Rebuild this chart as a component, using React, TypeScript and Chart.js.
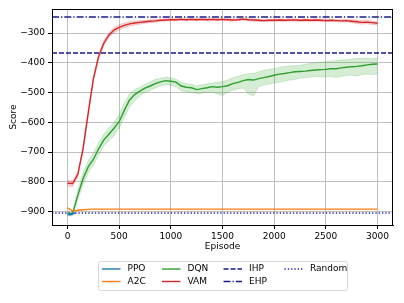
import React, { useEffect, useRef } from "react";
import { Chart, registerables } from "chart.js";

Chart.register(...registerables);

// ---------- data ----------
const EPISODES = [
  0, 50, 100, 150, 200, 250, 300, 350, 400, 450, 500, 550, 600, 650, 700, 750, 800, 850, 900, 950,
  1000, 1050, 1100, 1150, 1200, 1250, 1300, 1350, 1400, 1450, 1500, 1550, 1600, 1650, 1700, 1750,
  1800, 1850, 1900, 1950, 2000, 2050, 2100, 2150, 2200, 2250, 2300, 2350, 2400, 2450, 2500, 2550,
  2600, 2650, 2700, 2750, 2800, 2850, 2900, 2950, 3000,
];

const VAM_MEAN = [
  -805, -806, -775, -690, -570, -455, -380, -335, -307, -290, -281, -274, -269, -266, -264, -262,
  -260, -259, -257, -256, -255, -255, -254, -255, -254, -255, -254, -255, -254, -255, -254, -255,
  -256, -255, -253, -255, -256, -257, -258, -257, -257, -256, -257, -256, -256, -257, -256, -257,
  -256, -257, -258, -257, -258, -259, -258, -260, -262, -264, -263, -265, -267,
];
const VAM_UPPER = [
  -795, -797, -767, -682, -562, -447, -372, -327, -299, -281, -272, -266, -262, -259, -258, -257,
  -255, -254, -253, -252, -251, -251, -250, -251, -250, -251, -250, -251, -250, -251, -250, -251,
  -252, -251, -249, -251, -252, -253, -254, -253, -253, -252, -253, -252, -252, -253, -252, -253,
  -252, -253, -254, -253, -254, -255, -254, -255, -256, -258, -257, -259, -261,
];
const VAM_LOWER = [
  -815, -816, -783, -698, -578, -463, -388, -343, -315, -299, -290, -282, -276, -273, -270, -267,
  -265, -264, -261, -260, -259, -259, -258, -259, -258, -259, -258, -259, -258, -259, -258, -259,
  -260, -259, -257, -259, -260, -261, -262, -261, -261, -260, -261, -260, -260, -261, -260, -261,
  -260, -261, -262, -261, -262, -263, -262, -265, -268, -270, -269, -271, -273,
];

const DQN_MEAN = [
  -910, -906, -845, -790, -750, -725, -690, -660, -640, -620, -598, -560, -525, -507, -495, -485,
  -478, -470, -464, -460, -462, -465, -478, -482, -484, -490, -487, -484, -480, -482, -480, -477,
  -470, -466, -460, -456, -458, -453, -450, -446, -442, -438, -436, -433, -430, -429, -428, -426,
  -424, -423, -422, -420, -420, -417, -415, -413, -412, -410, -407, -405, -404,
];
const DQN_UPPER = [
  -905, -900, -830, -770, -730, -705, -670, -640, -620, -600, -575, -535, -505, -490, -482, -472,
  -464, -456, -452, -448, -450, -455, -465, -470, -472, -478, -474, -470, -468, -466, -463, -458,
  -450, -445, -440, -436, -435, -430, -425, -422, -420, -415, -412, -410, -410, -408, -405, -402,
  -400, -398, -396, -394, -392, -390, -390, -388, -385, -385, -384, -386, -384,
];
const DQN_LOWER = [
  -915, -912, -860, -810, -770, -745, -712, -680, -662, -645, -620, -585, -548, -528, -512, -500,
  -493, -485, -478, -474, -476, -480, -495, -497, -500, -503, -502, -500, -498, -505, -510, -500,
  -492, -488, -485, -505, -512, -480, -475, -472, -468, -465, -462, -458, -456, -452, -450, -448,
  -446, -448, -447, -446, -450, -445, -443, -442, -444, -440, -438, -440, -438,
];

const A2C_MEAN = [
  -888, -898, -896, -894, -893, -892, -892, -892, -892, -892, -892, -892, -892, -892, -892, -892,
  -892, -892, -892, -892, -892, -892, -892, -892, -892, -892, -892, -892, -892, -892, -892, -892,
  -892, -892, -892, -892, -892, -892, -892, -892, -892, -892, -892, -892, -892, -892, -892, -892,
  -892, -892, -892, -892, -892, -892, -892, -892, -892, -892, -892, -892, -892,
];

const PPO_EPISODES = [0, 25, 50, 75];
const PPO_MEAN = [-907, -911, -908, -905];
const PPO_UPPER = [-902, -905, -903, -901];
const PPO_LOWER = [-912, -916, -913, -909];

const IHP = -367;
const EHP = -246;
const RANDOM = -905;

const X_TICKS = [0, 500, 1000, 1500, 2000, 2500, 3000];
const Y_TICKS = [-900, -800, -700, -600, -500, -400, -300];
const X_MIN = -150;
const X_MAX = 3150;
const Y_MIN = -945.5;
const Y_MAX = -219;

// ---------- styling ----------
const C_PPO = "#1f77b4";
const C_A2C = "#ff7f0e";
const C_DQN = "#2ca02c";
const C_VAM = "#d62728";
const C_IHP = "#1a1a8c";
const C_EHP = "#1a1a8c";
const C_RND = "#1f1fb0";
const FONT = "DejaVu Sans";

function rgba(hex: string, a: number) {
  const n = parseInt(hex.slice(1), 16);
  return `rgba(${(n >> 16) & 255},${(n >> 8) & 255},${n & 255},${a})`;
}

function pts(xs: number[], ys: number[]) {
  return xs.map((x, i) => ({ x, y: ys[i] }));
}

type LegendEntry = { label: string; color: string; dash: number[] };
const LEGEND_COLUMNS: LegendEntry[][] = [
  [
    { label: "PPO", color: C_PPO, dash: [] },
    { label: "A2C", color: C_A2C, dash: [] },
  ],
  [
    { label: "DQN", color: C_DQN, dash: [] },
    { label: "VAM", color: C_VAM, dash: [] },
  ],
  [
    { label: "IHP", color: C_IHP, dash: [5, 2] },
    { label: "EHP", color: C_EHP, dash: [7, 2, 1.3, 2] },
  ],
  [{ label: "Random", color: C_RND, dash: [1.3, 2] }],
];

function band(label: string, xs: number[], lo: number[], hi: number[], color: string) {
  return [
    {
      label: label + "_lo",
      data: pts(xs, lo),
      borderColor: rgba(color, 0.25),
      borderWidth: 0.7,
      pointRadius: 0,
      fill: false,
    },
    {
      label: label + "_hi",
      data: pts(xs, hi),
      borderColor: rgba(color, 0.25),
      borderWidth: 0.7,
      backgroundColor: rgba(color, 0.2),
      pointRadius: 0,
      fill: "-1",
    },
  ];
}

const framePlugin = {
  id: "frameAndLegend",
  afterDraw(chart: any) {
    const ctx = chart.ctx as CanvasRenderingContext2D;
    const a = chart.chartArea;
    ctx.save();
    ctx.strokeStyle = "#000";
    ctx.lineWidth = 1;
    ctx.strokeRect(Math.round(a.left) + 0.5, Math.round(a.top) + 0.5, Math.round(a.right - a.left) - 1 + 0, Math.round(a.bottom - a.top));

    // axis titles
    ctx.fillStyle = "#000";
    ctx.font = `9px "${FONT}"`;
    ctx.textAlign = "center";
    ctx.textBaseline = "middle";
    ctx.fillText("Episode", (a.left + a.right) / 2, 247);
    ctx.save();
    ctx.translate(14, (a.top + a.bottom) / 2);
    ctx.rotate(-Math.PI / 2);
    ctx.fillText("Score", 0, 0);
    ctx.restore();

    // legend
    const bx = 98.5, by = 261.5, bw = 249, bh = 29;
    ctx.strokeStyle = "#d8d8d8";
    ctx.lineWidth = 1;
    ctx.fillStyle = "rgba(255,255,255,0.8)";
    ctx.beginPath();
    const r = 2;
    ctx.moveTo(bx + r, by);
    ctx.lineTo(bx + bw - r, by);
    ctx.quadraticCurveTo(bx + bw, by, bx + bw, by + r);
    ctx.lineTo(bx + bw, by + bh - r);
    ctx.quadraticCurveTo(bx + bw, by + bh, bx + bw - r, by + bh);
    ctx.lineTo(bx + r, by + bh);
    ctx.quadraticCurveTo(bx, by + bh, bx, by + bh - r);
    ctx.lineTo(bx, by + r);
    ctx.quadraticCurveTo(bx, by, bx + r, by);
    ctx.closePath();
    ctx.fill();
    ctx.stroke();

    const colX = [102, 162, 223.5, 284.5];
    const rowY = [269, 281.5];
    ctx.textAlign = "left";
    ctx.textBaseline = "middle";
    ctx.font = `9px "${FONT}"`;
    LEGEND_COLUMNS.forEach((col, ci) => {
      col.forEach((e, ri) => {
        const x0 = colX[ci];
        const y0 = rowY[ri];
        ctx.strokeStyle = e.color;
        ctx.lineWidth = 1.4;
        ctx.setLineDash(e.dash);
        ctx.beginPath();
        ctx.moveTo(x0, y0);
        ctx.lineTo(x0 + 18.5, y0);
        ctx.stroke();
        ctx.setLineDash([]);
        ctx.fillStyle = "#000";
        ctx.fillText(e.label, x0 + 25.5, y0);
      });
    });
    ctx.restore();
  },
};

export default function App() {
  const ref = useRef<HTMLCanvasElement>(null);

  useEffect(() => {
    if (!ref.current) return;
    const hline = (label: string, y: number, color: string, dash: number[]) => ({
      label,
      data: [
        { x: X_MIN, y },
        { x: X_MAX, y },
      ],
      borderColor: color,
      borderWidth: 1.4,
      borderDash: dash,
      pointRadius: 0,
      fill: false,
    });

    const chart = new Chart(ref.current, {
      type: "line",
      data: {
        datasets: [
          { label: "PPO", data: pts(PPO_EPISODES, PPO_MEAN), borderColor: C_PPO, borderWidth: 1.4, pointRadius: 0, fill: false },
          ...band("PPO", PPO_EPISODES, PPO_LOWER, PPO_UPPER, C_PPO),
          { label: "A2C", data: pts(EPISODES, A2C_MEAN), borderColor: C_A2C, borderWidth: 1.4, pointRadius: 0, fill: false },
          { label: "DQN", data: pts(EPISODES, DQN_MEAN), borderColor: C_DQN, borderWidth: 1.4, pointRadius: 0, fill: false },
          ...band("DQN", EPISODES, DQN_LOWER, DQN_UPPER, C_DQN),
          { label: "VAM", data: pts(EPISODES, VAM_MEAN), borderColor: C_VAM, borderWidth: 1.4, pointRadius: 0, fill: false },
          ...band("VAM", EPISODES, VAM_LOWER, VAM_UPPER, C_VAM),
          hline("IHP", IHP, C_IHP, [5, 2]),
          hline("EHP", EHP, C_EHP, [7, 2, 1.3, 2]),
          hline("Random", RANDOM, C_RND, [1.3, 2]),
        ] as any,
      },
      options: {
        animation: false,
        responsive: false,
        maintainAspectRatio: false,
        devicePixelRatio: 1,
        layout: { padding: { left: 0, right: 11, top: 9, bottom: 0 } },
        plugins: {
          legend: { display: false },
          tooltip: { enabled: false },
        },
        elements: { line: { tension: 0 } },
        scales: {
          x: {
            type: "linear",
            min: X_MIN,
            max: X_MAX,
            afterBuildTicks: (s: any) => {
              s.ticks = X_TICKS.map((v) => ({ value: v }));
            },
            afterFit: (s: any) => {
              s.height = 78;
            },
            ticks: {
              color: "#000",
              font: { family: FONT, size: 9 },
              padding: 2,
              maxRotation: 0,
              callback: (v: any) => String(v),
            },
            grid: { color: "#b0b0b0", lineWidth: 0.8, tickLength: 4, tickColor: "#000", tickWidth: 1 },
            border: { display: true, color: "#000", width: 1 },
          },
          y: {
            type: "linear",
            min: Y_MIN,
            max: Y_MAX,
            afterBuildTicks: (s: any) => {
              s.ticks = Y_TICKS.map((v) => ({ value: v }));
            },
            afterFit: (s: any) => {
              s.width = 52;
            },
            ticks: {
              color: "#000",
              font: { family: FONT, size: 9 },
              padding: 3,
              callback: (v: any) => (v < 0 ? "\u2212" + Math.abs(v) : String(v)),
            },
            grid: { color: "#b0b0b0", lineWidth: 0.8, tickLength: 4, tickColor: "#000", tickWidth: 1 },
            border: { display: true, color: "#000", width: 1 },
          },
        },
      } as any,
      plugins: [framePlugin],
    });
    return () => chart.destroy();
  }, []);

  return (
    <div style={{ position: "fixed", left: 0, top: 0, width: 404, height: 303, background: "#fff" }}>
      <canvas ref={ref} width={404} height={303} style={{ width: 404, height: 303, display: "block" }} />
    </div>
  );
}
